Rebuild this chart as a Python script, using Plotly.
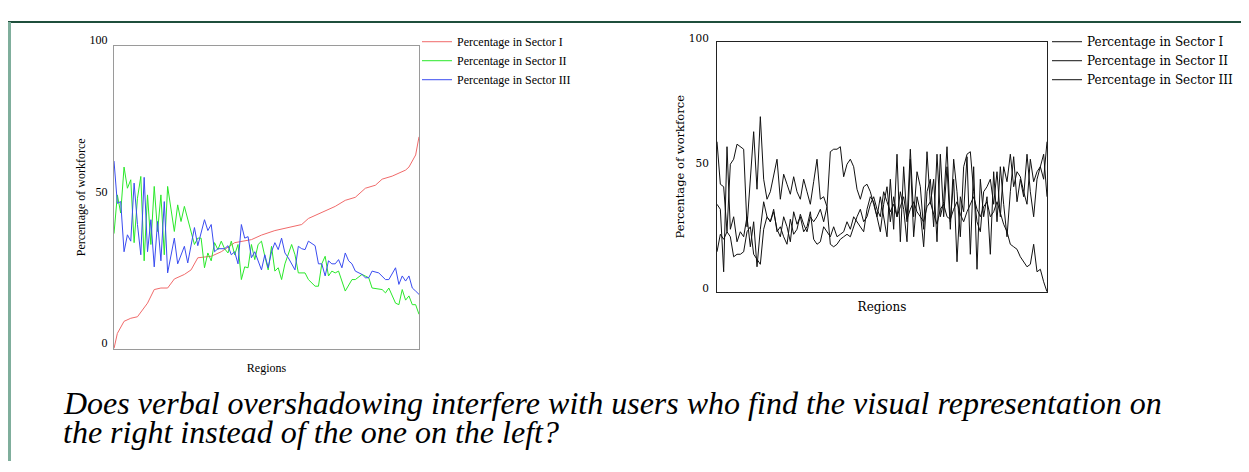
import plotly.graph_objects as go

# ---------------- Left chart data (regions sorted by Sector I) ----------------
red_x = [0, 1, 3, 5, 7, 10, 12, 14, 16, 18, 21, 23, 25, 29, 32, 36, 41, 44, 48, 52,
         56, 58, 62, 66, 69, 72, 75, 78, 80, 83, 87, 88, 90, 91]
red_y = [0, 5, 9, 10, 10.5, 15, 19.5, 20, 20, 23, 24.5, 26, 30, 30.5, 32, 35, 36, 37.5, 39, 40,
         41, 43, 45, 47, 49, 50, 53, 54, 56, 57, 59, 60, 64, 70]

blue_x = [0, 1, 2, 3, 4, 5, 6, 7, 8, 9, 10, 11, 12, 13, 14, 15, 16, 18, 19, 21,
          22, 24, 25, 27, 28, 29, 30, 31, 33, 34, 35, 36, 37, 38, 39, 40, 41, 42, 44, 45,
          46, 47, 48, 49, 50, 51, 52, 54, 55, 56, 57, 58, 60, 61, 62, 63, 64, 65, 66, 67,
          68, 69, 70, 71, 72, 73, 74, 75, 76, 77, 79, 81, 82, 84, 85, 86, 87, 88, 89, 90, 91]
blue_y = [62, 48, 48.6, 32, 37.6, 35.5, 54.7, 41, 31, 56.6, 32, 42.6, 27, 42, 29, 48.6, 25, 36.5, 28, 33.8,
          28.3, 40, 34, 42.6, 39, 41, 32, 33, 33, 34, 31, 32, 28, 41, 36.5, 37, 30, 32, 26, 31,
          26.7, 32, 35, 32.7, 36.5, 31.6, 30, 26, 33.8, 33, 32.7, 35.5, 34, 28, 28, 24, 29, 28, 28, 29.4,
          26.7, 31.6, 29, 28, 25.6, 25, 24.5, 23.4, 23.4, 25.6, 25, 22.8, 22.8, 26.7, 21.2, 24, 22.3, 24, 20, 19, 17.9]

green_x = [0, 1, 2, 3, 4, 5, 6, 7, 8, 9, 10, 11, 12, 13, 14, 15, 16, 17, 18, 19,
           20, 21, 22, 24, 25, 26, 27, 28, 29, 30, 31, 32, 33, 34, 35, 36, 37, 38, 39, 40,
           41, 42, 43, 44, 45, 46, 47, 48, 49, 50, 51, 52, 53, 54, 55, 57, 58, 60, 61, 62,
           63, 64, 65, 66, 67, 69, 71, 72, 74, 76, 77, 80, 81, 82, 84, 85, 86, 87, 88, 89, 90, 91]
green_y = [38, 50.8, 44.8, 60, 53, 55.8, 35, 49.7, 56.9, 29, 50.8, 34.4, 53.6, 38.7, 50.8, 31, 53.6, 46.4, 38.7, 47.5,
           42, 47, 43, 34.4, 36.5, 36.5, 26.7, 31.6, 29, 35, 32.7, 35.5, 33, 31.6, 35.5, 31, 34.4, 22.8, 27, 26.7,
           34.4, 29.4, 34.4, 35.5, 30.5, 26, 33.8, 25.6, 26.7, 22.8, 28, 31.6, 34.4, 31, 25, 25, 22.8, 20.6, 20.6, 28,
           30.5, 24, 25.6, 25, 25.6, 19, 22.8, 22.8, 24.5, 23.4, 20, 19.5, 18.4, 20, 15, 14.5, 19.5, 16, 17.4, 14.5, 14.5, 11.3]

# ---------------- Right chart data (regions in random order) ----------------
regions_r = list(range(100))
s1_y = [16, 23, 21, 24, 22, 14, 15, 15, 16, 24,
        26, 15, 13, 11, 25, 30, 28, 33, 24, 26,
        22, 19, 29, 23, 25, 31, 27, 24, 30, 28,
        30, 33, 28, 34, 19, 18, 19, 21, 22, 23,
        22, 26, 30, 33, 28, 30, 35, 38, 33, 30,
        40, 36, 32, 35, 30, 34, 38, 29, 33, 36,
        32, 30, 28, 34, 36, 31, 27, 33, 35, 30,
        29, 33, 36, 31, 28, 32, 35, 38, 33, 30,
        34, 36, 30, 32, 36, 31, 27, 24, 19, 18,
        17, 14, 12, 10, 11, 19, 8, 9, 4, 0]
s2_y = [60, 43, 42, 24, 51, 53, 59, 58, 57, 26,
        45, 64, 41, 70, 45, 37, 40, 46, 53, 37,
        47, 43, 39, 46, 40, 37, 45, 40, 35, 44,
        53, 37, 38, 34, 56, 57, 57, 58, 46, 51,
        53, 50, 41, 37, 42, 43, 40, 35, 30, 38,
        30, 22, 45, 25, 55, 20, 50, 28, 57, 30,
        48, 42, 25, 56, 35, 45, 20, 55, 30, 50,
        25, 53, 40, 22, 50, 55, 56, 40, 28, 24,
        40, 42, 45, 35, 48, 30, 50, 44, 55, 42,
        48, 46, 40, 35, 53, 44, 48, 50, 45, 60]
s3_y = [35, 33, 8, 58, 25, 30, 20, 24, 22, 30,
        18, 28, 10, 25, 36, 30, 28, 32, 25, 22,
        30, 26, 20, 32, 27, 30, 24, 26, 32, 21,
        19, 20, 26, 24, 22, 26, 22, 23, 24, 28,
        25, 30, 28, 26, 24, 33, 38, 36, 30, 24,
        35, 42, 28, 38, 30, 40, 33, 20, 53, 22,
        38, 32, 18, 40, 45, 26, 55, 30, 36, 58,
        28, 45, 12, 38, 32, 54, 15, 50, 9, 45,
        30, 38, 15, 48, 28, 50, 35, 22, 40, 54,
        36, 45, 38, 55, 40, 30, 45, 50, 55, 38]

names = ["Percentage in Sector I", "Percentage in Sector II", "Percentage in Sector III"]
y_ticks = [0, 50, 100]
y_title = "Percentage of workforce"
x_title = "Regions"
caption1 = "Does verbal overshadowing interfere with users who find the visual representation on"
caption2 = "the right instead of the one on the left?"

# The page keeps the browser's default 8px body margin, so the figure is
# sized to fill the 1249x472 window exactly inside that margin.
PAGE_W, PAGE_H, BODY_M = 1249, 472, 8
W, H = PAGE_W - 2 * BODY_M, PAGE_H - 2 * BODY_M
SERIF = "Liberation Serif, Times New Roman, serif"
WIDE_SERIF = "DejaVu Serif, serif"

fig = go.Figure()
fig.add_trace(go.Scatter(x=red_x, y=red_y, mode="lines", name=names[0],
                         line=dict(color="#f06a6a", width=1), legend="legend"))
fig.add_trace(go.Scatter(x=green_x, y=green_y, mode="lines", name=names[1],
                         line=dict(color="#2ae82a", width=1), legend="legend"))
fig.add_trace(go.Scatter(x=blue_x, y=blue_y, mode="lines", name=names[2],
                         line=dict(color="#3a4cf0", width=1), legend="legend"))

for ys, nm in zip([s1_y, s2_y, s3_y], names):
    fig.add_trace(go.Scatter(x=regions_r, y=ys, mode="lines", name=nm,
                             line=dict(color="#111111", width=1),
                             xaxis="x2", yaxis="y2", legend="legend2"))

def px_x(p):
    # target picture pixel -> paper fraction
    return (p - BODY_M) / W

def px_y(p):
    # target picture pixel -> paper fraction (calibrated against the capture)
    page = (p - 11.0) / 0.97
    return min(1.0, max(0.0, 1 - (page - BODY_M) / H))

axis_common = dict(showgrid=False, zeroline=False, mirror=True, showline=True, ticks="")

fig.update_layout(
    width=W, height=H,
    margin=dict(l=0, r=0, t=0, b=0),
    paper_bgcolor="white", plot_bgcolor="white",
    font=dict(family=SERIF, color="black"),
    xaxis=dict(domain=[px_x(114), px_x(419)], range=[0, 91], showticklabels=False,
               linecolor="#9a9a9a", linewidth=1,
               title=dict(text=x_title, font=dict(size=12), standoff=15), **axis_common),
    yaxis=dict(domain=[px_y(348), px_y(44)], range=[0, 100], tickvals=y_ticks,
               tickfont=dict(size=12), linecolor="#9a9a9a", linewidth=1,
               ticklabelshift=-6, ticklabelstandoff=3,
               title=dict(text=y_title, font=dict(size=12), standoff=1), **axis_common),
    xaxis2=dict(domain=[px_x(717), px_x(1047)], range=[0, 99], showticklabels=False,
                linecolor="#222222", linewidth=1, anchor="y2",
                title=dict(text=x_title, font=dict(size=12, family=WIDE_SERIF), standoff=10),
                **axis_common),
    yaxis2=dict(domain=[px_y(291), px_y(39.5)], range=[0, 100], tickvals=y_ticks,
                tickfont=dict(size=10.5, family=WIDE_SERIF), linecolor="#222222", linewidth=1,
                anchor="x2", ticklabelshift=-3, ticklabelstandoff=5,
                title=dict(text=y_title, font=dict(size=11.5, family=WIDE_SERIF), standoff=1),
                **axis_common),
    legend=dict(x=px_x(417), y=px_y(25), xanchor="left", yanchor="top",
                font=dict(size=12, family=SERIF), bgcolor="rgba(0,0,0,0)",
                itemwidth=30, tracegroupgap=0),
    legend2=dict(x=px_x(1047), y=px_y(25), xanchor="left", yanchor="top",
                 font=dict(size=12, family=WIDE_SERIF), bgcolor="rgba(0,0,0,0)",
                 itemwidth=30, tracegroupgap=0),
    annotations=[
        dict(text="<i>" + caption1 + "</i>", xref="paper", yref="paper", x=px_x(61), y=px_y(403),
             xanchor="left", yanchor="middle", showarrow=False,
             font=dict(size=32, family=SERIF, color="black")),
        dict(text="<i>" + caption2 + "</i>", xref="paper", yref="paper", x=px_x(61), y=px_y(432),
             xanchor="left", yanchor="middle", showarrow=False,
             font=dict(size=32, family=SERIF, color="black")),
    ],
    shapes=[
        dict(type="line", xref="paper", yref="paper", x0=px_x(8), x1=1, y0=0.998, y1=0.998,
             line=dict(color="#1f4f3c", width=2)),
        dict(type="line", xref="paper", yref="paper", x0=px_x(9.5), x1=px_x(9.5), y0=0, y1=0.998,
             line=dict(color="#7fae9c", width=3)),
    ],
)

fig.write_html("out.html", config={"displayModeBar": False})
